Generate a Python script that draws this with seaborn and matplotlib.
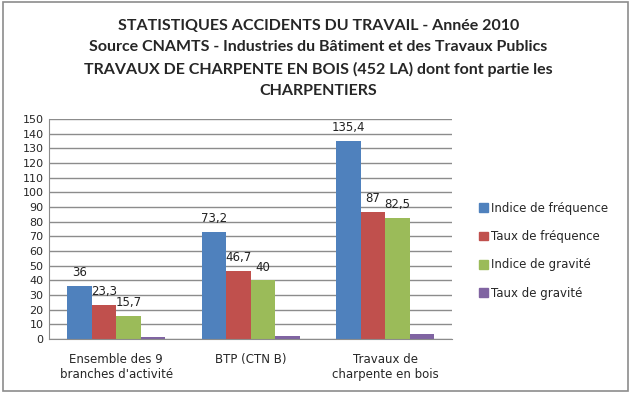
import matplotlib
matplotlib.use("Agg")
import matplotlib.pyplot as plt
import matplotlib.patches as mpatches
import seaborn as sns
import pandas as pd

# data
categories = ["Ensemble des 9\nbranches d'activité", "BTP (CTN B)", "Travaux de\ncharpente en bois"]
series = ["Indice de fréquence", "Taux de fréquence", "Indice de gravité", "Taux de gravité"]
indice_freq = [36, 73.2, 135.4]
taux_freq = [23.3, 46.7, 87]
indice_grav = [15.7, 40, 82.5]
taux_grav = [1.4, 2.3, 3.6]
colors = ["#4F81BD", "#C0504D", "#9BBB59", "#8064A2"]
yticks = list(range(0, 151, 10))

rows = []
for s, vals in zip(series, [indice_freq, taux_freq, indice_grav, taux_grav]):
    for c, v in zip(categories, vals):
        rows.append({"cat": c, "serie": s, "val": v})
df = pd.DataFrame(rows)

sns.set_style("white")
fig = plt.figure(figsize=(6.37, 3.93), dpi=100)
ax = fig.add_axes([0.077, 0.137, 0.633, 0.56])

sns.barplot(data=df, x="cat", y="val", hue="serie", palette=colors,
            width=0.73, gap=0, saturation=1, linewidth=0, ax=ax, legend=False)

# data labels (except the last series)
for cont, s in zip(ax.containers[:3], series[:3]):
    labels = [f"{v:g}".replace(".", ",") for v in df[df.serie == s].val]
    ax.bar_label(cont, labels=labels, padding=5, fontsize=8.5, color="#222222")

ax.set_ylim(0, 150)
ax.set_yticks(yticks)
ax.set_yticklabels([str(t) for t in yticks], fontsize=8)
ax.yaxis.grid(True, color="#8C8C8C", linewidth=1)
ax.set_axisbelow(True)
ax.set_xlabel("")
ax.set_ylabel("")
ax.tick_params(axis="x", labelsize=8.5, pad=10, length=0)
ax.tick_params(axis="y", length=0, pad=4)
for side in ["top", "right"]:
    ax.spines[side].set_visible(False)
ax.spines["left"].set_color("#8C8C8C")
ax.spines["bottom"].set_color("#8C8C8C")

handles = [mpatches.Patch(color=c, label=s) for c, s in zip(colors, series)]
fig.legend(handles=handles, loc="center left", bbox_to_anchor=(0.735, 0.362),
           frameon=False, fontsize=8.5, handlelength=0.75, handleheight=0.75,
           handletextpad=0.25, labelspacing=1.3)

title_lines = ["STATISTIQUES ACCIDENTS DU TRAVAIL - Année 2010",
               "Source CNAMTS - Industries du Bâtiment et des Travaux Publics",
               "TRAVAUX DE CHARPENTE EN BOIS (452 LA) dont font partie les",
               "CHARPENTIERS"]
fig.text(0.5, 0.952, "\n".join(title_lines), ha="center", va="top",
         fontsize=11.5, fontweight="bold", family="Lato", linespacing=1.65)

fig.patches.append(mpatches.Rectangle((0.004, 0.006), 0.982, 0.988, transform=fig.transFigure,
                                      fill=False, edgecolor="#8C8C8C", linewidth=1.2))

fig.savefig("out.png", dpi=100)
